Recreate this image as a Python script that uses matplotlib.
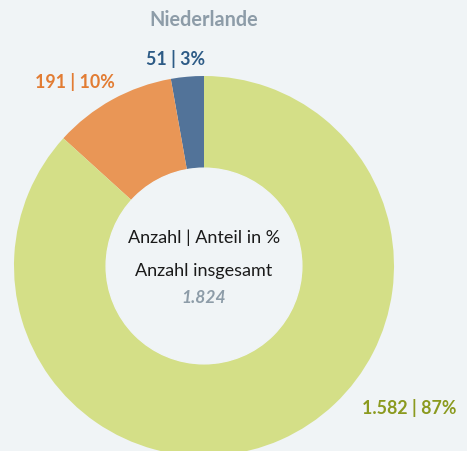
import matplotlib.pyplot as plt
from matplotlib.patches import Circle

# Daten
kategorien = ["Blau", "Orange", "Grün"]
anzahl = [51, 191, 1582]
anteil = [3, 10, 87]
farben = ["#527399", "#e99656", "#d4df87"]
textfarben = ["#2d5b86", "#e27c33", "#8b9a1f"]
gesamt = 1824
titel = "Niederlande"

BG = "#f0f4f6"
W, H = 467, 452
CX, CY, R = 204, 267, 190  # Zentrum und Radius in Pixel
INNEN = 0.515

plt.rcParams['font.family'] = ['Lato', 'DejaVu Sans']

fig = plt.figure(figsize=(W / 100, H / 100), dpi=100, facecolor=BG)
ax = fig.add_axes([0, 0, 1, 1])
ax.set_facecolor(BG)

ax.pie(anzahl, colors=farben, startangle=90, counterclock=True, radius=1,
       wedgeprops=dict(width=1 - INNEN, linewidth=0))
ax.add_patch(Circle((0, 0), INNEN, color=BG, zorder=3))

ax.set_xlim(-CX / R, (W - CX) / R)
ax.set_ylim(-(H - CY) / R, CY / R)
ax.set_aspect('equal')
ax.axis('off')


def px(x, y):
    return x / W, 1 - y / H


def fmt(n):
    return f"{n:,}".replace(",", ".")


fig.text(*px(204, 20), titel, ha='center', va='center', fontsize=14.3,
         fontweight='bold', color="#8d9ca8")

# Beschriftungen der Segmente
pos = [(175, 59), (75, 82), (409, 408)]
for (x, y), n, p, c in zip(pos, anzahl, anteil, textfarben):
    fig.text(*px(x, y), f"{fmt(n)} | {p}%", ha='center', va='center',
             fontsize=12.8, fontweight='bold', color=c)

# Mitte
fig.text(*px(204, 238), "Anzahl | Anteil in %", ha='center', va='center',
         fontsize=13, color="#1a1a1a")
fig.text(*px(204, 271), "Anzahl insgesamt", ha='center', va='center',
         fontsize=13, color="#1a1a1a")
fig.text(*px(204, 298), fmt(gesamt), ha='center', va='center',
         fontsize=12.5, fontweight='bold', fontstyle='italic', color="#8d9ca8")

fig.savefig("out.png", dpi=100, facecolor=BG)
